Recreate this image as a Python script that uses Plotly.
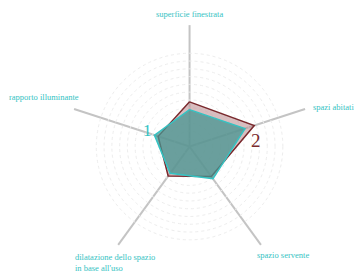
import plotly.graph_objects as go

categories = ["superficie finestrata", "spazi abitati", "spazio servente",
              "dilatazione dello spazio in base all'uso", "rapporto illuminante"]
series_2 = [46, 70, 38, 37.5, 34]
series_1 = [38, 60, 41, 34, 38]
grid_vals = [8 * k for k in range(1, 13)]

label_texts = ["superficie finestrata", "spazi abitati", "spazio servente",
               "dilatazione dello spazio<br>in base all'uso", "rapporto illuminante"]

teal = "#35c3c3"
red = "#7a2a2e"

fig = go.Figure()
fig.add_trace(go.Scatterpolar(
    r=series_2 + series_2[:1], theta=categories + categories[:1],
    mode="lines", fill="toself",
    fillcolor="rgba(190,145,148,0.6)",
    line=dict(color=red, width=1.5), name="2"))
fig.add_trace(go.Scatterpolar(
    r=series_1 + series_1[:1], theta=categories + categories[:1],
    mode="lines", fill="toself",
    fillcolor="rgba(70,150,145,0.75)",
    line=dict(color=teal, width=1.5), name="1"))

fig.update_layout(
    width=354, height=276,
    margin=dict(l=0, r=0, t=0, b=0),
    paper_bgcolor="white", plot_bgcolor="white",
    showlegend=False,
    font=dict(family="Liberation Serif", color=teal, size=9),
    polar=dict(
        domain=dict(x=[0.192, 0.879], y=[0.029, 0.909]),
        bgcolor="white",
        radialaxis=dict(range=[0, 125], tickvals=grid_vals, showticklabels=False,
                        showline=False, ticks="", gridcolor="#ededed",
                        griddash="dot", gridwidth=1),
        angularaxis=dict(rotation=90, direction="clockwise", showticklabels=False,
                         ticks="", showline=False, gridcolor="#c4c4c4", gridwidth=1.5),
    ),
)

# category labels (positions in paper pixels)
label_pos = [(189, 14, "center"), (333, 107, "center"), (283, 255, "center"),
             (73, 262, "left"), (44, 97, "center")]
for txt, (px, py, al) in zip(label_texts, label_pos):
    fig.add_annotation(x=px / 354, y=1 - py / 276, xref="paper", yref="paper",
                       text=txt, showarrow=False, align="left",
                       xanchor="left" if al == "left" else "center", yanchor="middle",
                       font=dict(family="Liberation Serif", size=8.5, color=teal))

fig.add_annotation(x=147 / 354, y=1 - 130 / 276, xref="paper", yref="paper", text="1",
                   showarrow=False, font=dict(family="Liberation Serif", size=17, color=teal))
fig.add_annotation(x=263 / 354, y=1 - 140 / 276, xref="paper", yref="paper", text="2",
                   showarrow=False, font=dict(family="Liberation Serif", size=19, color=red))

fig.write_html("out.html", config={"displayModeBar": False},
               post_script="document.body.style.margin='0';document.body.style.overflow='hidden';")
